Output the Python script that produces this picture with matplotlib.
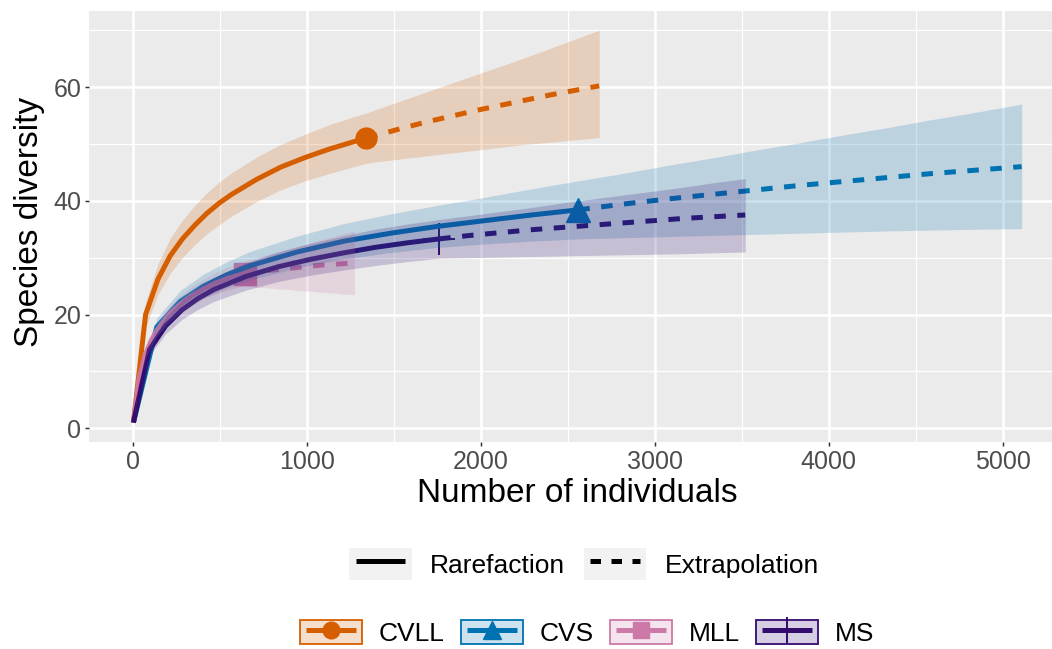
import matplotlib
matplotlib.use("Agg")
import matplotlib.pyplot as plt
from matplotlib.lines import Line2D
from matplotlib.patches import Patch, Rectangle
from matplotlib.legend_handler import HandlerPatch, HandlerTuple
from matplotlib.colors import to_rgba
import numpy as np

plt.rcParams['font.family'] = ['Liberation Sans', 'DejaVu Sans']

# ---------------- data ----------------
sites = ["CVLL", "CVS", "MLL", "MS"]
colors = ["#D55E00", "#0072B2", "#CC79A7", "#330A6E"]
observed_n = [1340, 2560, 640, 1760]

cvll_n = [1, 71, 142, 212, 283, 354, 424, 495, 565, 706, 847, 988, 1129, 1270, 1340,
          1411, 1552, 1693, 1834, 1975, 2116, 2257, 2398, 2539, 2680]
cvll_s = [1, 20, 26.2, 30.3, 33.3, 35.7, 37.8, 39.6, 41.1, 43.7, 45.9, 47.6, 49.1, 50.4, 51,
          51.6, 52.8, 53.9, 54.9, 55.9, 56.8, 57.7, 58.6, 59.4, 60.2]
cvll_lo = [1, 17.8, 23.5, 27.2, 30, 32.3, 34.2, 35.8, 37.3, 39.8, 41.9, 43.5, 44.8, 46, 46.6,
           46.9, 47.4, 47.9, 48.4, 48.9, 49.4, 49.9, 50.3, 50.7, 51.1]
cvll_hi = [1, 22.2, 28.9, 33.4, 36.6, 39.2, 41.4, 43.3, 44.9, 47.6, 49.9, 51.7, 53.4, 54.8, 55.4,
           56.2, 57.7, 59.2, 60.7, 62.2, 63.7, 65.2, 66.8, 68.4, 70.0]

cvs_n = [1, 135, 270, 404, 539, 674, 943, 1213, 1482, 1752, 2021, 2291, 2560,
         2815, 3070, 3325, 3580, 3835, 4090, 4345, 4600, 4855, 5110]
cvs_s = [1, 17.8, 22.3, 25.0, 27.0, 28.6, 31.0, 32.9, 34.3, 35.5, 36.5, 37.5, 38.4,
         39.4, 40.3, 41.1, 41.9, 42.7, 43.4, 44.1, 44.8, 45.4, 46.0]
cvs_lo = [1, 16.2, 20.4, 22.9, 24.7, 26.1, 28.2, 29.8, 30.9, 31.8, 32.4, 32.9, 33.3,
          33.5, 33.7, 33.9, 34.1, 34.3, 34.5, 34.7, 34.85, 35.0, 35.1]
cvs_hi = [1, 19.4, 24.2, 27.1, 29.3, 31.1, 33.8, 36.0, 37.7, 39.2, 40.6, 42.1, 43.5,
          44.8, 46.2, 47.5, 48.9, 50.2, 51.6, 52.9, 54.3, 55.6, 57.0]

mll_n = [1, 34, 68, 102, 135, 202, 270, 337, 404, 472, 539, 606, 640,
         703, 766, 830, 893, 956, 1019, 1082, 1146, 1209, 1272]
mll_s = [1, 8.8, 12.8, 15.3, 17.2, 19.9, 21.8, 23.3, 24.5, 25.5, 26.3, 26.9, 27.2,
         27.5, 27.7, 27.9, 28.1, 28.3, 28.5, 28.7, 28.8, 28.95, 29.1]
mll_lo = [1, 8.2, 12.0, 14.4, 16.1, 18.6, 20.3, 21.7, 22.8, 23.6, 24.3, 24.8, 25.0,
          24.8, 24.7, 24.5, 24.4, 24.2, 24.1, 23.9, 23.8, 23.6, 23.5]
mll_hi = [1, 9.4, 13.6, 16.2, 18.3, 21.2, 23.3, 24.9, 26.2, 27.4, 28.3, 29.0, 29.4,
          29.9, 30.5, 31.0, 31.6, 32.1, 32.6, 33.2, 33.7, 34.2, 34.7]

ms_n = [1, 93, 186, 279, 371, 464, 649, 834, 1019, 1204, 1390, 1575, 1760,
        1936, 2112, 2288, 2464, 2640, 2816, 2992, 3168, 3344, 3520]
ms_s = [1, 13.8, 18.0, 20.8, 22.8, 24.4, 26.7, 28.4, 29.7, 30.8, 31.8, 32.6, 33.3,
        33.9, 34.4, 34.9, 35.3, 35.7, 36.1, 36.5, 36.9, 37.2, 37.5]
ms_lo = [1, 12.8, 16.6, 19.1, 20.9, 22.3, 24.3, 25.8, 26.9, 27.8, 28.6, 29.3, 29.9,
         30.0, 30.1, 30.2, 30.3, 30.4, 30.5, 30.6, 30.7, 30.85, 31.0]
ms_hi = [1, 14.8, 19.4, 22.5, 24.7, 26.5, 29.1, 31.0, 32.5, 33.8, 35.0, 35.9, 36.7,
         37.4, 38.1, 38.8, 39.6, 40.3, 41.0, 41.7, 42.4, 43.2, 43.9]

x_ticks = [0, 1000, 2000, 3000, 4000, 5000]
y_ticks = [0, 20, 40, 60]
linetype_labels = ["Rarefaction", "Extrapolation"]

# ---------------- styling ----------------
series = [
    (cvll_n, cvll_s, cvll_lo, cvll_hi),
    (cvs_n, cvs_s, cvs_lo, cvs_hi),
    (mll_n, mll_s, mll_lo, mll_hi),
    (ms_n, ms_s, ms_lo, ms_hi),
]
markers = ["o", "^", "s", "+"]
msizes = [15, 17, 15.5, 23]
LW = 3.6
DASH = (2.3, 2.3)

W, H = 1052, 649
fig = plt.figure(figsize=(W / 100, H / 100), dpi=100)
left_px, right_px, top_px, bot_px = 89, 1052, 10.5, 442.2
ax = fig.add_axes([left_px / W, 1 - bot_px / H, (right_px - left_px) / W, (bot_px - top_px) / H])
ax.set_facecolor("#EBEBEB")
for sp in ax.spines.values():
    sp.set_visible(False)

# points first, then lines, ribbons on top (ggplot layer order)
for (n, s, lo, hi), c, mk, msz, obs in zip(series, colors, markers, msizes, observed_n):
    n = np.array(n); s = np.array(s)
    k = int(np.where(n == obs)[0][0])
    if mk == "+":
        ax.plot([n[k]], [s[k]], marker=mk, ms=msz, mew=1.4, color=c, ls="none", zorder=3)
    else:
        ax.plot([n[k]], [s[k]], marker=mk, ms=msz, color=c, mec=c, ls="none", zorder=3)
for (n, s, lo, hi), c, obs in zip(series, colors, observed_n):
    n = np.array(n); s = np.array(s)
    k = int(np.where(n == obs)[0][0])
    ax.plot(n[:k + 1], s[:k + 1], color=c, lw=LW, solid_capstyle="butt", solid_joinstyle="round", zorder=4)
    ax.plot(n[k:], s[k:], color=c, lw=LW, dashes=DASH, dash_capstyle="butt", zorder=4)
for (n, s, lo, hi), c in zip(series, colors):
    ax.fill_between(n, lo, hi, color=c, alpha=0.2, lw=0, zorder=5)

x_lo = -254.5
x_per_px = 5000 / (1002 - 132.7)
ax.set_xlim(x_lo, x_lo + (right_px - left_px) * x_per_px)
ax.set_ylim(-2.45, 73.45)
ax.set_xticks(x_ticks)
ax.set_xticks([500, 1500, 2500, 3500, 4500], minor=True)
ax.set_yticks(y_ticks)
ax.set_yticks([10, 30, 50, 70], minor=True)
ax.grid(which="major", color="white", lw=1.8, zorder=0)
ax.grid(which="minor", color="white", lw=0.9, zorder=0)
ax.set_axisbelow(True)
ax.tick_params(which="major", length=2.9, width=1.07, color="#333333",
               labelcolor="#4D4D4D", labelsize=18, pad=2.5)
ax.tick_params(which="minor", length=0)

ax.set_xlabel("Number of individuals", fontsize=24, color="black")
ax.set_ylabel("Species diversity", fontsize=24, color="black", va="center")
ax.xaxis.set_label_coords((577.5 - left_px) / (right_px - left_px), -(494 - bot_px) / (bot_px - top_px))
ax.xaxis.label.set_va("center")
ax.yaxis.set_label_coords((30 - left_px) / (right_px - left_px), 0.51)

# ---------------- legends ----------------
def rect_func(padx, pady):
    def f(legend, orig_handle, xdescent, ydescent, width, height, fontsize):
        return Rectangle((-xdescent - padx, -ydescent - pady), width + 2 * padx, height + 2 * pady)
    return f

FS = 19
# linetype legend
h1, hm1 = [], {}
for lab, dashed in zip(linetype_labels, [False, True]):
    bg = Patch(facecolor="#F2F2F2", edgecolor="none")
    ln = Line2D([], [], color="black", lw=LW)
    if dashed:
        ln.set_dashes((2.1, 2.1))
        ln.set_dash_capstyle("butt")
    else:
        ln.set_solid_capstyle("butt")
    hm1[bg] = HandlerPatch(patch_func=rect_func(5.0, 0))
    h1.append((bg, ln))
hm1[tuple] = HandlerTuple(ndivide=1, pad=0)
leg1 = fig.legend(h1, linetype_labels, loc="center", bbox_to_anchor=(587.5 / W, 1 - 564 / H),
                  ncol=2, frameon=False, fontsize=FS, handlelength=1.86, handleheight=1.44,
                  handletextpad=0.95, columnspacing=0.95, borderpad=0, borderaxespad=0,
                  handler_map=hm1)

# site legend
h2, hm2 = [], {}
leg_ms = [12, 13, 12, 19]
for c, mk, msz in zip(colors, markers, leg_ms):
    bx = Patch(facecolor=to_rgba(c, 0.2), edgecolor=c, lw=1.3)
    ln = Line2D([], [], color=c, lw=LW, marker=mk, ms=msz, mec=c,
                mew=1.4 if mk == "+" else 1.0, solid_capstyle="butt")
    hm2[bx] = HandlerPatch(patch_func=rect_func(4.3, 0))
    h2.append((bx, ln))
hm2[tuple] = HandlerTuple(ndivide=1, pad=0)
leg2 = fig.legend(h2, sites, loc="center", bbox_to_anchor=(590 / W, 1 - 633 / H),
                  ncol=4, frameon=False, fontsize=FS, handlelength=1.9, handleheight=1.06,
                  handletextpad=0.85, columnspacing=0.85, borderpad=0, borderaxespad=0,
                  numpoints=1, handler_map=hm2)

fig.savefig("out.png", dpi=100)
